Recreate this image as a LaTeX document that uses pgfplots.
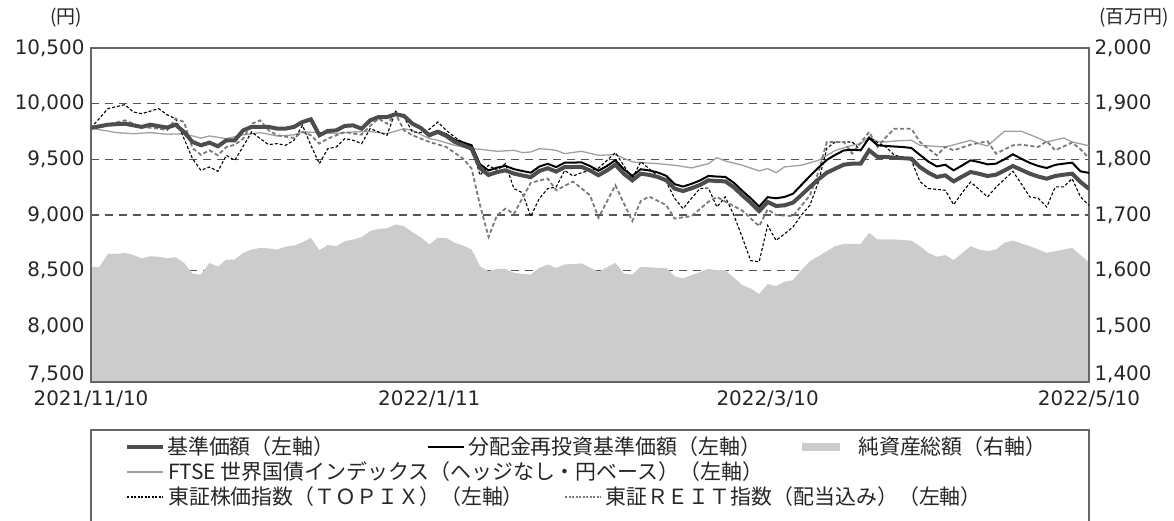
\documentclass[border=0pt]{standalone}
\usepackage{fontspec}
\setmainfont{Noto Sans CJK JP}
\newfontfamily\tickfont{DejaVu Sans}
\usepackage{pgfplots}
\usepackage{pgfplotstable}
\pgfplotsset{compat=1.18}
\definecolor{thickc}{HTML}{4D4D4D}
\definecolor{ftsec}{HTML}{A0A0A0}
\definecolor{reitc}{HTML}{7A7A7A}
\definecolor{areac}{HTML}{CCCCCC}
\definecolor{framec}{HTML}{666666}
\definecolor{gridc}{HTML}{555555}
\definecolor{txtc}{HTML}{262626}

% 基準価額
\pgfplotstableread{
i v
0 9782
2 9811
4 9820
6 9791
7 9811
9 9785
10 9811
11 9746
12 9656
13 9626
14 9650
15 9617
16 9671
17 9671
18 9761
19 9791
21 9791
22 9776
23 9776
24 9791
25 9835
26 9859
27 9716
28 9755
29 9760
30 9800
31 9805
32 9775
33 9850
34 9880
35 9880
36 9905
37 9890
38 9820
39 9781
40 9716
41 9746
42 9710
43 9656
44 9626
45 9596
46 9420
47 9360
48 9385
49 9401
50 9372
51 9355
52 9340
53 9395
54 9420
55 9390
56 9430
57 9431
58 9432
59 9400
60 9357
61 9400
62 9452
63 9370
64 9311
65 9371
66 9360
67 9342
68 9312
69 9237
70 9215
71 9240
72 9270
73 9311
74 9305
75 9302
76 9250
77 9177
78 9110
79 9035
80 9117
81 9081
82 9087
83 9111
84 9180
85 9251
86 9320
87 9380
88 9416
89 9452
90 9461
91 9461
92 9581
93 9521
94 9521
95 9515
96 9510
97 9506
98 9431
99 9380
100 9341
101 9356
102 9302
103 9345
104 9386
105 9370
106 9350
107 9362
108 9400
109 9440
110 9405
111 9371
112 9345
113 9326
114 9350
115 9362
116 9371
117 9296
118 9235
}\tA

% 分配金再投資基準価額
\pgfplotstableread{
i v
0 9782
2 9811
4 9820
6 9791
7 9811
9 9785
10 9811
11 9746
12 9656
13 9626
14 9650
15 9617
16 9671
17 9671
18 9761
19 9791
21 9791
22 9776
23 9776
24 9791
25 9835
26 9859
27 9716
28 9755
29 9760
30 9800
31 9805
32 9775
33 9850
34 9880
35 9880
36 9905
37 9890
38 9820
39 9781
40 9726
41 9756
42 9725
43 9676
44 9651
45 9626
46 9455
47 9400
48 9425
49 9441
50 9412
51 9395
52 9380
53 9435
54 9460
55 9430
56 9470
57 9471
58 9472
59 9440
60 9397
61 9440
62 9492
63 9410
64 9351
65 9411
66 9400
67 9382
68 9352
69 9277
70 9255
71 9280
72 9310
73 9351
74 9345
75 9342
76 9290
77 9217
78 9150
79 9075
80 9160
81 9150
82 9162
83 9191
84 9270
85 9350
86 9425
87 9495
88 9540
89 9580
90 9586
91 9581
92 9692
93 9626
94 9620
95 9615
96 9610
97 9602
98 9540
99 9480
100 9436
101 9451
102 9401
103 9445
104 9491
105 9475
106 9455
107 9461
108 9500
109 9545
110 9505
111 9468
112 9440
113 9422
114 9450
115 9461
116 9470
117 9392
118 9378
}\tB

% 純資産総額（百万円）
\pgfplotstableread{
i v
0 1607
1 1607
2 1630
3 1630
4 1632
5 1628
6 1622
7 1626
8 1625
9 1622
10 1624
11 1614
12 1595
13 1593
14 1614
15 1607
16 1620
17 1620
18 1632
19 1638
20 1641
21 1640
22 1638
23 1643
24 1645
25 1651
26 1659
27 1637
28 1646
29 1644
30 1653
31 1656
32 1660
33 1671
34 1675
35 1676
36 1683
37 1680
38 1669
39 1660
40 1647
41 1659
42 1659
43 1650
44 1645
45 1638
46 1608
47 1599
48 1603
49 1603
50 1596
52 1593
53 1605
54 1611
55 1605
56 1611
58 1613
60 1598
62 1614
63 1595
64 1593
65 1607
67 1605
68 1605
69 1590
70 1586
71 1592
73 1603
74 1601
75 1601
77 1574
78 1568
79 1558
80 1576
81 1572
82 1580
83 1583
84 1601
85 1617
86 1626
88 1644
89 1648
91 1648
92 1668
93 1656
95 1656
97 1654
98 1644
99 1632
100 1625
101 1628
102 1619
104 1644
105 1638
106 1635
107 1638
108 1650
109 1654
111 1644
113 1632
114 1635
116 1641
118 1615
}\tC

% FTSE
\pgfplotstableread{
i v
0 9780
3 9740
5 9730
7 9740
9 9725
11 9730
13 9690
14 9710
16 9686
18 9720
20 9740
22 9710
24 9720
25 9746
27 9740
29 9731
31 9746
33 9750
35 9731
37 9775
38 9761
40 9686
41 9671
43 9626
45 9596
46 9590
48 9572
50 9581
51 9560
52 9566
53 9596
54 9590
55 9581
56 9551
58 9572
60 9536
62 9542
64 9477
65 9471
67 9461
69 9447
71 9423
73 9461
74 9515
75 9485
77 9447
79 9396
80 9417
81 9380
82 9432
84 9447
86 9491
88 9580
90 9626
91 9640
92 9700
93 9660
94 9656
95 9665
97 9671
98 9626
101 9611
102 9630
104 9671
105 9640
106 9620
108 9752
110 9752
112 9692
113 9656
115 9692
116 9656
118 9622
}\tD

% TOPIX
\pgfplotstableread{
i v
0 9782
2 9955
4 9991
5 9925
6 9910
8 9955
9 9900
10 9865
12 9506
13 9401
14 9431
15 9392
16 9536
17 9491
19 9746
20 9686
21 9632
22 9641
23 9626
24 9671
25 9805
26 9626
27 9461
28 9596
29 9611
30 9686
31 9671
32 9641
33 9776
34 9746
35 9716
36 9931
37 9880
38 9746
39 9740
40 9770
41 9835
42 9760
43 9700
44 9650
45 9611
46 9357
47 9447
48 9400
49 9462
50 9237
51 9200
52 8988
53 9147
54 9237
55 9251
56 9401
57 9350
58 9380
59 9401
60 9420
61 9490
62 9560
64 9326
65 9480
67 9350
68 9300
69 9150
70 9057
71 9150
72 9237
73 9242
74 9072
75 9162
76 9000
77 8800
78 8590
79 8580
80 8907
81 8772
82 8830
83 8893
84 9000
85 9087
86 9296
87 9600
88 9656
89 9656
90 9656
91 9581
92 9700
93 9650
94 9610
95 9536
96 9520
97 9491
98 9300
99 9237
100 9230
101 9222
102 9093
103 9200
104 9296
105 9230
106 9162
107 9250
108 9320
109 9392
110 9280
111 9162
112 9150
113 9072
114 9252
115 9252
116 9326
117 9162
118 9087
}\tE

% 東証REIT
\pgfplotstableread{
i v
0 9782
2 9811
4 9850
6 9791
8 9776
9 9761
10 9865
11 9835
12 9600
13 9540
14 9581
15 9536
16 9611
17 9630
18 9686
19 9820
20 9850
21 9761
22 9716
24 9692
25 9746
26 9716
27 9641
28 9686
29 9716
30 9746
31 9731
32 9722
33 9800
34 9865
35 9820
36 9910
37 9761
38 9716
40 9656
42 9611
44 9506
45 9417
46 9087
47 8803
48 8997
49 9057
50 9010
52 9290
54 9327
55 9222
57 9300
59 9177
60 8975
62 9267
64 8945
65 9125
66 9165
68 9090
69 8968
71 8990
73 9118
74 9162
75 9120
77 9040
79 8900
80 9050
81 9000
83 8990
85 9177
86 9386
87 9656
89 9656
90 9551
92 9746
93 9611
94 9700
95 9775
97 9775
98 9656
100 9536
101 9611
102 9581
104 9632
106 9662
107 9551
109 9626
110 9632
112 9611
113 9662
114 9581
116 9650
117 9590
118 9510
}\tF

\pgfplotsset{
  base/.style={
    scale only axis, width=998bp, height=334bp,
    at={(91bp,139bp)}, anchor=south west,
    xmin=0, xmax=118,
    scaled y ticks=false,
    axis line style={framec, line width=1.3bp},
    tick label style={font=\tickfont\fontsize{20}{24}\selectfont, text=txtc},
    /pgf/number format/.cd, 1000 sep={,}, assume math mode=true,
  },
}

\begin{document}
\begin{tikzpicture}[x=1bp,y=1bp]
\useasboundingbox (0,0) rectangle (1174,521);

% left axis: ticks, labels, grid
\begin{axis}[base,
  ymin=7500, ymax=10500,
  ytick={8000,8500,9000,9500,10000,10500},
  extra y ticks={7500},
  extra y tick style={yticklabel style={yshift=8bp}, ytick style={draw=none}},
  ymajorgrids,
  grid style={gridc, dash pattern=on 8bp off 6bp, line width=1.3bp},
  ytick style={draw=none},
  xtick={0,40,80,118},
  xticklabels={2021/11/10,2022/1/11,2022/3/10,2022/5/10},
  tick align=inside, major tick length=7bp,
  xtick style={framec, line width=1.3bp},
  yticklabel style={xshift=-3bp},
  xticklabel style={yshift=-5bp},
  axis x line*=bottom, axis y line*=left,
]
\addplot[draw=none, forget plot] coordinates {(0,9000)};
\end{axis}

% right axis: net assets
\begin{axis}[base,
  ymin=1400, ymax=2000,
  ytick={1500,1600,1700,1800,1900,2000},
  extra y ticks={1400},
  extra y tick style={yticklabel style={yshift=8bp}},
  axis y line*=right, axis x line=none,
  y axis line style={draw=none},
  ytick style={draw=none},
  yticklabel style={xshift=2bp},
]
\addplot[fill=areac, draw=none] table[x=i, y=v]{\tC} \closedcycle;
\end{axis}

% left axis: lines
\begin{axis}[base,
  ymin=7500, ymax=10500,
  xtick=\empty, ytick=\empty,
]
\addplot[ftsec, line width=1.3bp] table[x=i, y=v]{\tD};
\addplot[black, line width=1.1bp, dash pattern=on 3bp off 2bp] table[x=i, y=v]{\tE};
\addplot[reitc, line width=1.8bp, dash pattern=on 4bp off 2.5bp] table[x=i, y=v]{\tF};
\addplot[black, line width=2bp] table[x=i, y=v]{\tB};
\addplot[thickc, line width=4bp] table[x=i, y=v]{\tA};
\end{axis}

% unit labels
\node[font=\fontsize{19}{22}\selectfont, text=txtc] at (66,503) {(円)};
\node[font=\fontsize{19}{22}\selectfont, text=txtc] at (1134,503) {(百万円)};

% legend
\draw[framec, line width=1.3bp] (91,-3) -- (91,91) -- (1089,91) -- (1089,-3);
\begin{scope}[every node/.style={anchor=west, inner sep=0pt, font=\fontsize{21}{24}\selectfont, text=txtc}]
\draw[thickc, line width=4bp] (127,74) -- (163,74);
\node at (167,74) {基準価額（左軸）};
\draw[black, line width=2bp] (428,74) -- (464,74);
\node at (468,74) {分配金再投資基準価額（左軸）};
\fill[areac] (802,70) rectangle (840,78);
\node at (858,74) {純資産総額（右軸）};
\draw[ftsec, line width=1.3bp] (127,49) -- (163,49);
\node at (168,49) {FTSE 世界国債インデックス（ヘッジなし・円ベース）（左軸）};
\draw[black, line width=1.1bp, dash pattern=on 2bp off 1.5bp] (127,24) -- (163,24);
\node at (168,24) {東証株価指数（ＴＯＰＩＸ）（左軸）};
\draw[reitc, line width=1.3bp, dash pattern=on 2bp off 1.5bp] (565,24) -- (601,24);
\node at (605,24) {東証ＲＥＩＴ指数（配当込み）（左軸）};
\end{scope}
\end{tikzpicture}
\end{document}
